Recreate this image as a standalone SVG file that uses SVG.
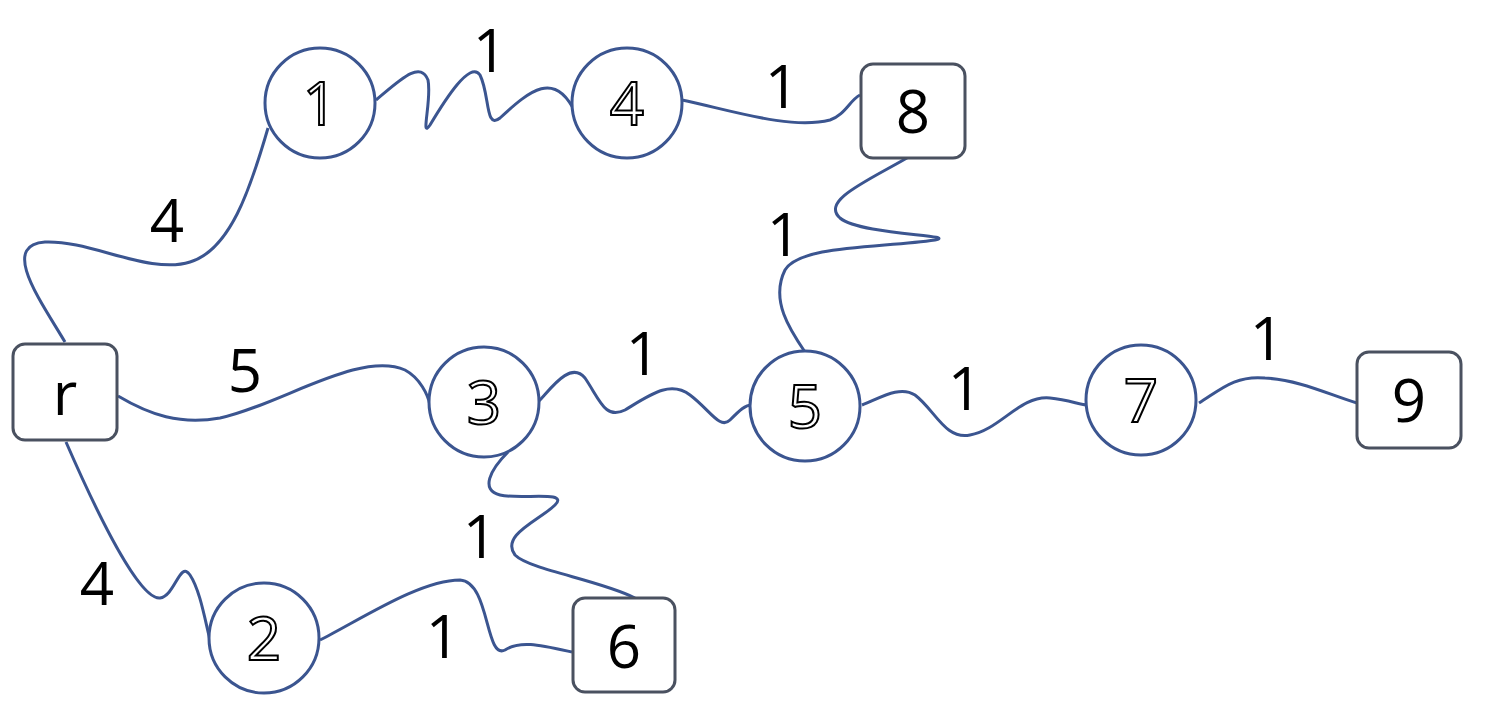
<svg xmlns="http://www.w3.org/2000/svg" width="1496" height="721" viewBox="0 0 1496 721">
<style>
.e{fill:none;stroke:#3b5590;stroke-width:3}
.c{fill:#fff;stroke:#3b5590;stroke-width:3}
.r{fill:#fff;stroke:#4a5160;stroke-width:3}
.o{font-family:"Open Sans","Liberation Sans",sans-serif;font-size:60px;fill:#fff;stroke:#000;stroke-width:2;text-anchor:middle}
.s{font-family:"Open Sans","Liberation Sans",sans-serif;font-size:60px;fill:#000;text-anchor:middle}
.l{font-family:"Open Sans","Liberation Sans",sans-serif;font-size:60px;fill:#000;text-anchor:middle}
</style>
<rect width="1496" height="721" fill="#fff"/>
<g id="connectors">
<path class="e" d="M65,342 C40,300 0,245 45,242 C90,240 150,275 190,262 C230,250 250,190 268,128"/>
<path class="e" d="M376,100 C400,80 420,60 428,80 C432,100 420,140 430,125 C445,100 470,60 480,75 C490,95 485,130 500,118 C530,90 555,70 575,112"/>
<path class="e" d="M682,100 C730,110 790,130 830,120 C845,115 850,100 860,95"/>
<path class="e" d="M912,155 C870,180 820,200 840,218 C860,235 960,235 935,240 C880,248 800,245 785,270 C770,300 790,330 805,352"/>
<path class="e" d="M118,396 C150,415 180,425 220,418 C280,405 360,350 405,370 C420,378 428,395 430,405"/>
<path class="e" d="M538,402 C550,390 570,360 585,378 C600,400 605,420 625,410 C650,395 670,380 690,395 C710,410 720,430 730,420 C740,410 745,405 752,405"/>
<path class="e" d="M862,405 C880,398 900,385 915,395 C935,410 945,440 970,435 C1000,430 1020,395 1050,398 C1070,400 1080,405 1088,405"/>
<path class="e" d="M1199,403 C1220,390 1235,375 1265,378 C1300,380 1330,395 1357,403"/>
<path class="e" d="M508,452 C490,470 480,490 500,495 C520,500 570,490 555,505 C540,520 500,535 515,555 C530,570 600,580 635,598"/>
<path class="e" d="M66,442 C100,520 140,600 160,598 C175,596 180,560 190,575 C200,590 205,620 210,640"/>
<path class="e" d="M320,640 C360,620 420,580 460,580 C490,582 485,660 505,650 C520,640 540,645 572,652"/>
</g>
<g id="labels">
<text class="l" x="490" y="72">1</text>
<text class="l" x="782" y="108">1</text>
<text class="l" x="167" y="242">4</text>
<text class="l" x="784" y="256">1</text>
<text class="l" x="245" y="392">5</text>
<text class="l" x="643" y="375">1</text>
<text class="l" x="965" y="410">1</text>
<text class="l" x="1267" y="360">1</text>
<text class="l" x="480" y="558">1</text>
<text class="l" x="97" y="605">4</text>
<text class="l" x="443" y="658">1</text>
</g>
<g id="n1"><circle class="c" cx="320" cy="103" r="55"/><text class="o" x="320" y="125">1</text></g>
<g id="n4"><circle class="c" cx="627" cy="103" r="55"/><text class="o" x="627" y="125">4</text></g>
<g id="n8"><rect class="r" x="861" y="64" width="104" height="94" rx="12"/><text class="s" x="913" y="133">8</text></g>
<g id="nr"><rect class="r" x="13" y="344" width="104" height="96" rx="12"/><text class="s" x="65" y="415">r</text></g>
<g id="n3"><circle class="c" cx="484" cy="402" r="55"/><text class="o" x="484" y="424">3</text></g>
<g id="n5"><circle class="c" cx="805" cy="406" r="55"/><text class="o" x="805" y="428">5</text></g>
<g id="n7"><circle class="c" cx="1141" cy="400" r="55"/><text class="o" x="1141" y="422">7</text></g>
<g id="n9"><rect class="r" x="1357" y="352" width="104" height="96" rx="12"/><text class="s" x="1409" y="422">9</text></g>
<g id="n2"><circle class="c" cx="264" cy="638" r="55"/><text class="o" x="264" y="660">2</text></g>
<g id="n6"><rect class="r" x="573" y="598" width="102" height="94" rx="12"/><text class="s" x="624" y="668">6</text></g>
</svg>
